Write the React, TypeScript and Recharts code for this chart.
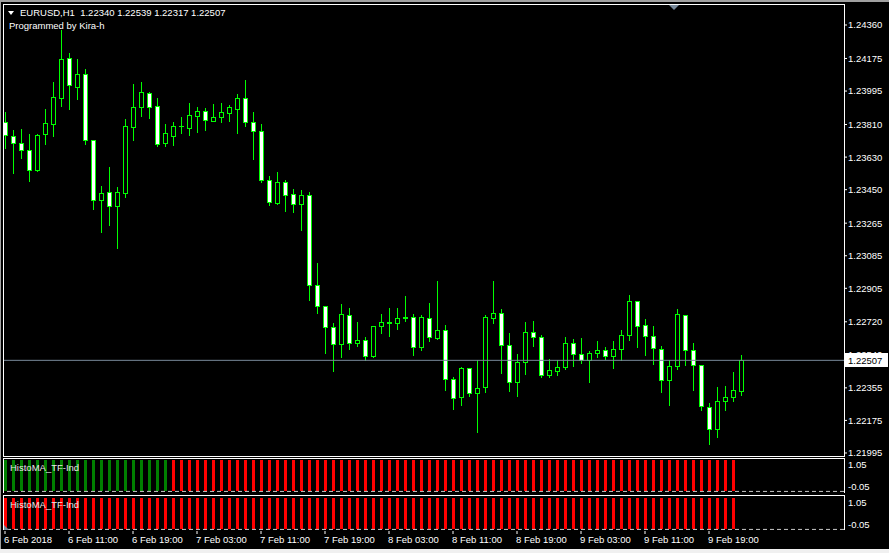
import React from 'react';
import { ComposedChart, BarChart, Bar, XAxis, YAxis, ReferenceLine } from 'recharts';

const FONT = '"Liberation Sans", Arial, sans-serif';
const FONT_SIZE = 9.5;

// EURUSD H1, 6 Feb 03:00 .. 9 Feb 23:00
const opens = [
  1.23826, 1.23748, 1.23706, 1.23668, 1.23559, 1.23756, 1.23811, 1.23955, 1.24176, 1.24019,
  1.24088, 1.23723, 1.23395, 1.23436, 1.23358, 1.23433, 1.23798, 1.23909, 1.23983, 1.23911,
  1.23710, 1.23748, 1.23800, 1.23793, 1.23859, 1.23883, 1.23831, 1.23853, 1.23875, 1.23897,
  1.23955, 1.23822, 1.23773, 1.23502, 1.23376, 1.23491, 1.23424, 1.23369, 1.23419, 1.22922,
  1.22806, 1.22690, 1.22596, 1.22756, 1.22601, 1.22618, 1.22529, 1.22695, 1.22717, 1.22712,
  1.22744, 1.22745, 1.22579, 1.22739, 1.22629, 1.22673, 1.22402, 1.22303, 1.22463, 1.22325,
  1.22358, 1.22743, 1.22767, 1.22590, 1.22386, 1.22496, 1.22662, 1.22634, 1.22424, 1.22446,
  1.22468, 1.22601, 1.22540, 1.22510, 1.22546, 1.22562, 1.22529, 1.22568, 1.22645, 1.22833,
  1.22701, 1.22640, 1.22568, 1.22397, 1.22474, 1.22756, 1.22562, 1.22480, 1.22247, 1.22129,
  1.22281, 1.22303, 1.22340,
];
const highs = [
  1.23879, 1.23780, 1.23785, 1.23758, 1.23758, 1.23896, 1.24045, 1.24332, 1.24205, 1.24172,
  1.24117, 1.23725, 1.23470, 1.23575, 1.23465, 1.23841, 1.24034, 1.24045, 1.23990, 1.23957,
  1.23813, 1.23824, 1.23852, 1.23929, 1.23907, 1.23901, 1.23923, 1.23929, 1.23918, 1.23979,
  1.24056, 1.23879, 1.23813, 1.23526, 1.23548, 1.23505, 1.23454, 1.23448, 1.23436, 1.23045,
  1.22808, 1.22712, 1.22818, 1.22794, 1.22717, 1.22634, 1.22697, 1.22763, 1.22794, 1.22796,
  1.22862, 1.22761, 1.22756, 1.22824, 1.22945, 1.22701, 1.22415, 1.22472, 1.22465, 1.22507,
  1.22756, 1.22945, 1.22791, 1.22658, 1.22542, 1.22717, 1.22724, 1.22647, 1.22513, 1.22507,
  1.22636, 1.22625, 1.22630, 1.22559, 1.22614, 1.22581, 1.22614, 1.22675, 1.22868, 1.22835,
  1.22735, 1.22697, 1.22586, 1.22507, 1.22791, 1.22758, 1.22603, 1.22482, 1.22270, 1.22360,
  1.22363, 1.22443, 1.22539,
];
const lows = [
  1.23680, 1.23544, 1.23627, 1.23500, 1.23555, 1.23704, 1.23748, 1.23914, 1.23896, 1.23951,
  1.23704, 1.23345, 1.23218, 1.23255, 1.23129, 1.23411, 1.23725, 1.23859, 1.23846, 1.23693,
  1.23691, 1.23697, 1.23765, 1.23754, 1.23770, 1.23780, 1.23829, 1.23824, 1.23830, 1.23765,
  1.23804, 1.23621, 1.23494, 1.23367, 1.23372, 1.23334, 1.23328, 1.23227, 1.22842, 1.22770,
  1.22549, 1.22450, 1.22527, 1.22571, 1.22588, 1.22510, 1.22527, 1.22656, 1.22643, 1.22682,
  1.22726, 1.22538, 1.22566, 1.22615, 1.22627, 1.22345, 1.22240, 1.22258, 1.22311, 1.22113,
  1.22334, 1.22715, 1.22439, 1.22339, 1.22311, 1.22433, 1.22588, 1.22413, 1.22413, 1.22424,
  1.22459, 1.22477, 1.22494, 1.22389, 1.22525, 1.22513, 1.22466, 1.22509, 1.22618, 1.22582,
  1.22538, 1.22488, 1.22334, 1.22262, 1.22461, 1.22483, 1.22345, 1.22234, 1.22046, 1.22085,
  1.22234, 1.22284, 1.22317,
];
const closes = [
  1.23752, 1.23706, 1.23669, 1.23557, 1.23750, 1.23817, 1.23960, 1.24170, 1.24027, 1.24088,
  1.23723, 1.23391, 1.23430, 1.23358, 1.23436, 1.23800, 1.23905, 1.23988, 1.23909, 1.23704,
  1.23762, 1.23800, 1.23801, 1.23861, 1.23883, 1.23833, 1.23850, 1.23878, 1.23905, 1.23955,
  1.23822, 1.23773, 1.23502, 1.23380, 1.23491, 1.23419, 1.23369, 1.23419, 1.22922, 1.22806,
  1.22690, 1.22596, 1.22761, 1.22601, 1.22618, 1.22529, 1.22695, 1.22717, 1.22714, 1.22739,
  1.22742, 1.22579, 1.22745, 1.22634, 1.22673, 1.22402, 1.22297, 1.22463, 1.22325, 1.22352,
  1.22745, 1.22767, 1.22590, 1.22386, 1.22496, 1.22662, 1.22634, 1.22424, 1.22452, 1.22468,
  1.22601, 1.22540, 1.22510, 1.22546, 1.22562, 1.22529, 1.22568, 1.22645, 1.22833, 1.22695,
  1.22640, 1.22573, 1.22397, 1.22474, 1.22761, 1.22562, 1.22480, 1.22253, 1.22129, 1.22281,
  1.22303, 1.22341, 1.22507,
];

// HistoMA_TF-Ind: 1 = up (green), 0 = down (red); no value on the forming bar
const histoUpper = [
  1, 1, 1, 1, 1, 1, 1, 1, 1, 1, 1, 1, 1, 1, 1, 1, 1, 1, 1, 1, 1,
  0, 0, 0, 0, 0, 0, 0, 0, 0, 0, 0, 0, 0, 0, 0, 0, 0, 0, 0, 0, 0, 0, 0, 0, 0, 0, 0, 0, 0, 0, 0,
  0, 0, 0, 0, 0, 0, 0, 0, 0, 0, 0, 0, 0, 0, 0, 0, 0, 0, 0, 0, 0, 0, 0, 0, 0, 0, 0, 0, 0, 0,
  0, 0, 0, 0, 0, 0, 0, 0, 0, 0,
];
const histoLower = [
  0, 0, 0, 0, 0, 0, 0, 0, 0, 0, 0, 0, 0, 0, 0, 0, 0, 0, 0, 0, 0,
  0, 0, 0, 0, 0, 0, 0, 0, 0, 0, 0, 0, 0, 0, 0, 0, 0, 0, 0, 0, 0, 0, 0, 0, 0, 0, 0, 0, 0, 0, 0,
  0, 0, 0, 0, 0, 0, 0, 0, 0, 0, 0, 0, 0, 0, 0, 0, 0, 0, 0, 0, 0, 0, 0, 0, 0, 0, 0, 0, 0, 0,
  0, 0, 0, 0, 0, 0, 0, 0, 0, 0,
];
const HISTO_LEVEL = 1;

const timeTickBars = [0, 8, 16, 24, 32, 40, 48, 56, 64, 72, 80, 88];
const timeTickLabels = [
  '6 Feb 2018', '6 Feb 11:00', '6 Feb 19:00', '7 Feb 03:00', '7 Feb 11:00', '7 Feb 19:00',
  '8 Feb 03:00', '8 Feb 11:00', '8 Feb 19:00', '9 Feb 03:00', '9 Feb 11:00', '9 Feb 19:00',
];
const priceTicks = [
  1.2436, 1.24175, 1.23995, 1.2381, 1.2363, 1.2345, 1.23265, 1.23085, 1.22905, 1.2272,
  1.2254, 1.22355, 1.22175, 1.21995,
];
const priceDomain = [1.219784, 1.24476];
const lastPrice = 1.22507;
const symbol = 'EURUSD,H1';

const xDomain = [-0.125, 104.875];

const candles = opens.map((o, i) => ({
  i,
  o,
  h: highs[i],
  l: lows[i],
  c: closes[i],
  range: [lows[i], highs[i]],
}));
const upperData = histoUpper.map((up, i) => ({ i, v: HISTO_LEVEL, up }));
const lowerData = histoLower.map((up, i) => ({ i, v: HISTO_LEVEL, up }));

const fmt = (v: number) => v.toFixed(5);

const Candle = (props: any) => {
  const { x, y, width, height, payload } = props;
  const { o, h, l, c } = payload;
  const cx = Math.round(x + width / 2);
  const py = (p: number) => y + ((h - p) / (h - l || 1)) * height;
  const hi = Math.round(y);
  const lo = Math.round(y + height);
  const top = Math.round(py(Math.max(o, c)));
  const bot = Math.round(py(Math.min(o, c)));
  const bear = c < o;
  return (
    <g>
      <line x1={cx + 0.5} x2={cx + 0.5} y1={hi} y2={lo + 1} stroke="#00ff00" strokeWidth={1} />
      {bot - top >= 1 ? (
        <rect x={cx - 1.5} y={top + 0.5} width={4} height={bot - top}
          fill={bear ? '#ffffff' : '#000000'} stroke="#00ff00" strokeWidth={1} />
      ) : (
        <line x1={cx - 2} x2={cx + 3} y1={top + 0.5} y2={top + 0.5} stroke="#00ff00" strokeWidth={1} />
      )}
    </g>
  );
};

const HistoBar = (props: any) => {
  const { x, y, width, height, payload } = props;
  const cx = Math.round(x + width / 2);
  const t = Math.round(y);
  const b = Math.round(y + height);
  return <rect x={cx - 1} y={t} width={3} height={b - t} fill={payload.up ? '#008000' : '#ff0000'} />;
};

const PriceTick = ({ x, y, payload }: any) => (
  <text x={x} y={y} dy={3.4} fill="#ffffff" fontSize={FONT_SIZE} fontFamily={FONT} textAnchor="start">
    {fmt(payload.value)}
  </text>
);

const SubTick = ({ x, y, payload }: any) => {
  const top = payload.value > 0.5;
  return (
    <text x={x} y={y + (top ? 10 : -3)} fill="#ffffff" fontSize={FONT_SIZE} fontFamily={FONT} textAnchor="start">
      {top ? '1.05' : '-0.05'}
    </text>
  );
};

const TimeTick = ({ x, y, payload }: any) => (
  <text x={Math.round(x) - 1} y={y} dy="0.71em" fill="#ffffff" fontSize={FONT_SIZE} fontFamily={FONT} textAnchor="start">
    {timeTickLabels[timeTickBars.indexOf(payload.value)]}
  </text>
);

const PriceTag = (props: any) => {
  const vb = props.viewBox || {};
  const yy = Math.round(vb.y);
  const left = vb.x + vb.width + 1;
  return (
    <g>
      <rect x={left} y={yy - 7} width={43} height={14} fill="#ffffff" />
      <text x={left + 3} y={yy + 3.5} fill="#000000" fontSize={FONT_SIZE} fontFamily={FONT}>
        {fmt(lastPrice)}
      </text>
    </g>
  );
};

const abs = (s: React.CSSProperties): React.CSSProperties => ({ position: 'absolute', ...s });
const textStyle: React.CSSProperties = {
  fontFamily: FONT,
  fontSize: FONT_SIZE,
  lineHeight: '11px',
  color: '#ffffff',
  whiteSpace: 'pre',
};

const subYAxis = (
  <YAxis orientation="right" width={45} domain={[-0.05, 1.05]} ticks={[1.05, -0.05]} interval={0}
    axisLine={false} tickLine={false} tickSize={3} tickMargin={1} tick={<SubTick />} allowDataOverflow />
);

export default function App() {
  const last = candles[candles.length - 1];
  return (
    <div style={abs({ left: 0, top: 0, width: 889, height: 553, background: '#000000', overflow: 'hidden' })}>
      <div style={abs({ left: 0, top: 0, width: 889, height: 2, background: '#a0a0a0' })} />
      <div style={abs({ left: 0, top: 0, width: 1, height: 553, background: '#a0a0a0' })} />

      {/* main price pane */}
      <div style={abs({ left: 0, top: 0 })}>
        <ComposedChart width={889} height={457} data={candles} margin={{ top: 4, right: 0, bottom: 1, left: 4 }}>
          <XAxis dataKey="i" type="number" domain={xDomain} hide allowDataOverflow />
          <YAxis orientation="right" width={45} domain={priceDomain} ticks={priceTicks} interval={0}
            axisLine={false} tickLine={{ stroke: '#ffffff' }} tickSize={3} tickMargin={1}
            tick={<PriceTick />} allowDataOverflow />
          <Bar dataKey="range" barSize={5} shape={<Candle />} isAnimationActive={false} />
          <ReferenceLine y={lastPrice} stroke="#778899" strokeWidth={1} label={<PriceTag />} />
        </ComposedChart>
      </div>
      <div style={abs({ left: 3, top: 4, width: 840, height: 451, border: '1px solid #ffffff' })} />

      {/* HistoMA pane 1 */}
      <div style={abs({ left: 0, top: 458 })}>
        <BarChart width={889} height={35} data={upperData} margin={{ top: 0, right: 0, bottom: 0, left: 4 }}>
          <XAxis dataKey="i" type="number" domain={xDomain} hide allowDataOverflow />
          {subYAxis}
          <Bar dataKey="v" barSize={3} shape={<HistoBar />} isAnimationActive={false} />
          <ReferenceLine y={0} stroke="#c8c8c8" strokeDasharray="4 3" />
        </BarChart>
      </div>
      <div style={abs({ left: 3, top: 458, width: 840, height: 34, borderTop: '1px solid #ffffff', borderLeft: '1px solid #ffffff', borderRight: '1px solid #ffffff' })} />

      {/* HistoMA pane 2 + time axis */}
      <div style={abs({ left: 0, top: 496 })}>
        <BarChart width={889} height={53} data={lowerData} margin={{ top: 0, right: 0, bottom: 0, left: 4 }}>
          <XAxis dataKey="i" type="number" domain={xDomain} ticks={timeTickBars} interval={0} height={18}
            axisLine={false} tickLine={{ stroke: '#ffffff' }} tickSize={3} tickMargin={2}
            tick={<TimeTick />} allowDataOverflow />
          {subYAxis}
          <Bar dataKey="v" barSize={3} shape={<HistoBar />} isAnimationActive={false} />
          <ReferenceLine y={0} stroke="#c8c8c8" strokeDasharray="4 3" />
        </BarChart>
      </div>
      <div style={abs({ left: 3, top: 495, width: 840, height: 34, borderTop: '1px solid #ffffff', borderLeft: '1px solid #ffffff', borderRight: '1px solid #ffffff' })} />

      {/* chart shift markers */}
      <div style={abs({ left: 669, top: 5, width: 0, height: 0, borderLeft: '5px solid transparent', borderRight: '5px solid transparent', borderTop: '5px solid #778899' })} />
      <div style={abs({ left: 4, top: 525, width: 0, height: 0, borderBottom: '5px solid #778899', borderRight: '5px solid transparent' })} />

      {/* labels */}
      <div style={abs({ left: 8, top: 11, width: 0, height: 0, borderLeft: '3.5px solid transparent', borderRight: '3.5px solid transparent', borderTop: '4px solid #ffffff' })} />
      <div style={abs({ ...textStyle, left: 20, top: 7 })}>
        {`${symbol}  ${fmt(last.o)} ${fmt(last.h)} ${fmt(last.l)} ${fmt(last.c)}`}
      </div>
      <div style={abs({ ...textStyle, left: 9, top: 19.5 })}>Programmed by Kira-h</div>
      <div style={abs({ ...textStyle, left: 10, top: 462, color: '#e8e8e8' })}>HistoMA_TF-Ind</div>
      <div style={abs({ ...textStyle, left: 10, top: 498.5, color: '#e8e8e8' })}>HistoMA_TF-Ind</div>

      <div style={abs({ left: 0, top: 549, width: 889, height: 4, background: '#f0f0f0' })} />
    </div>
  );
}
